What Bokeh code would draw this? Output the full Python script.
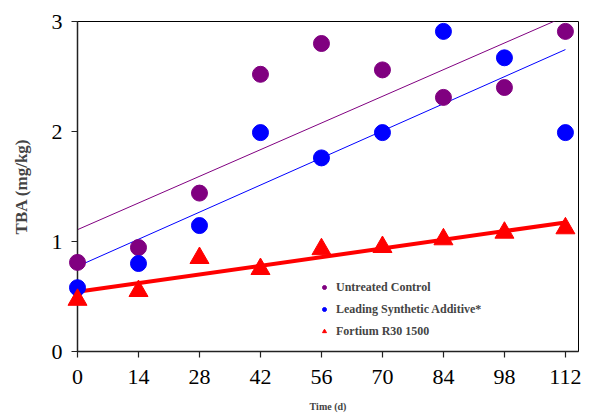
import numpy as np
from bokeh.plotting import figure
from bokeh.models import Range1d, FixedTicker, Legend, LegendItem
from bokeh.embed import file_html
from bokeh.resources import INLINE

days = [0, 14, 28, 42, 56, 70, 84, 98, 112]
untreated = [0.81, 0.945, 1.44, 2.52, 2.80, 2.56, 2.31, 2.40, 2.91]
synthetic = [0.58, 0.80, 1.145, 1.99, 1.76, 1.99, 2.91, 2.67, 1.99]
fortium = [0.47, 0.55, 0.85, 0.75, 0.93, 0.95, 1.02, 1.08, 1.12]
y_ticks = [0, 1, 2, 3]
series_names = ["Untreated Control", "Leading Synthetic Additive*", "Fortium R30 1500"]
colors = ["#800080", "#0000FF", "#FF0000"]

FONT = "Liberation Serif"

p = figure(width=590, height=414, output_backend="svg", toolbar_location=None,
           x_range=Range1d(0, 115), y_range=Range1d(0, 3),
           min_border_left=77, min_border_right=12, min_border_top=21, min_border_bottom=62)
p.xgrid.visible = False
p.ygrid.visible = False
p.outline_line_color = "black"
p.outline_line_width = 1

for ax in (p.xaxis[0], p.yaxis[0]):
    ax.axis_line_color = "#222222"
    ax.axis_line_width = 1.5
    ax.major_tick_line_color = "#222222"
    ax.major_tick_line_width = 1.2
    ax.major_tick_out = 6
    ax.major_tick_in = 0
    ax.minor_tick_line_color = None
    ax.major_label_text_font = FONT
    ax.major_label_text_font_size = "22px"
    ax.major_label_text_color = "black"

p.xaxis.ticker = FixedTicker(ticks=days)
p.yaxis.ticker = FixedTicker(ticks=y_ticks)
p.xaxis.major_label_standoff = 12
p.yaxis.major_label_standoff = 9

p.xaxis.axis_label = "Time (d)"
p.xaxis.axis_label_text_font = FONT
p.xaxis.axis_label_text_font_style = "bold"
p.xaxis.axis_label_text_font_size = "10px"
p.xaxis.axis_label_standoff = 14

p.yaxis.axis_label = "TBA (mg/kg)"
p.yaxis.axis_label_text_font = FONT
p.yaxis.axis_label_text_font_style = "bold"
p.yaxis.axis_label_text_font_size = "17px"
p.yaxis.axis_label_standoff = 18

xs = np.array(days, dtype=float)
for name, ys, col, lw in zip(series_names, [untreated, synthetic, fortium], colors, [1, 1, 4]):
    m, b = np.polyfit(xs, np.array(ys), 1)
    p.line([xs[0], xs[-1]], [b + m * xs[0], b + m * xs[-1]], line_color=col, line_width=lw)

r1 = p.scatter(days, untreated, marker="circle", size=16, fill_color=colors[0], line_color=colors[0], level="overlay")
r2 = p.scatter(days, synthetic, marker="circle", size=16, fill_color=colors[1], line_color=colors[1], level="overlay")
r3 = p.scatter(days, fortium, marker="triangle", size=19, fill_color=colors[2], line_color=colors[2], level="overlay")
items = [LegendItem(label=n, renderers=[r]) for n, r in zip(series_names, [r1, r2, r3])]

legend = Legend(items=items, location=(242, 12))
legend.border_line_color = None
legend.background_fill_alpha = 0
legend.label_text_font = FONT
legend.label_text_font_style = "bold"
legend.label_text_font_size = "12px"
legend.glyph_width = 10
legend.glyph_height = 10
legend.label_height = 16
legend.spacing = 6
legend.label_standoff = 7
legend.padding = 4
p.add_layout(legend)

open("out.html", "w").write(file_html(p, INLINE))
